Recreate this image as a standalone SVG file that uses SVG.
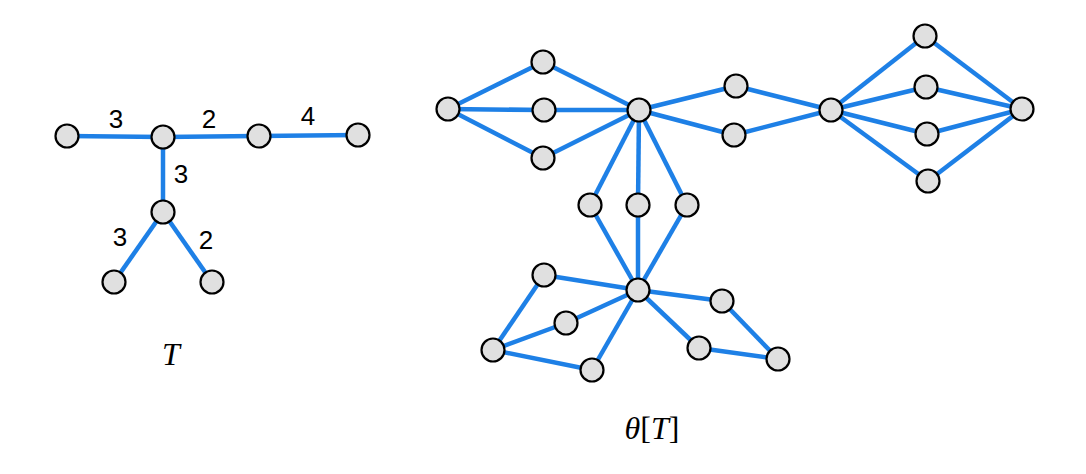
<svg xmlns="http://www.w3.org/2000/svg" width="1086" height="474" viewBox="0 0 1086 474">
<style>
.e{stroke:#1e80e6;stroke-width:4.5;fill:none;stroke-linecap:butt}
.n{fill:#e0e0e0;stroke:#000;stroke-width:2.2}
.w{font-family:"Liberation Sans",Arial,sans-serif;font-size:26px;fill:#000;text-anchor:middle}
.m{font-family:"Liberation Serif","Times New Roman",serif;font-size:32px;fill:#000;text-anchor:middle}
.i{font-style:italic}
</style>
<rect width="1086" height="474" fill="#fff"/>
<g id="connectors">
<line class="e" x1="67" y1="136" x2="163" y2="137"/>
<line class="e" x1="163" y1="137" x2="259" y2="136"/>
<line class="e" x1="259" y1="136" x2="358" y2="135"/>
<line class="e" x1="163" y1="137" x2="163" y2="212"/>
<line class="e" x1="163" y1="212" x2="114" y2="282"/>
<line class="e" x1="163" y1="212" x2="212" y2="282"/>
<line class="e" x1="448" y1="109" x2="543" y2="62"/>
<line class="e" x1="448" y1="109" x2="544" y2="110"/>
<line class="e" x1="448" y1="109" x2="543" y2="158"/>
<line class="e" x1="543" y1="62" x2="639" y2="110"/>
<line class="e" x1="544" y1="110" x2="639" y2="110"/>
<line class="e" x1="543" y1="158" x2="639" y2="110"/>
<line class="e" x1="639" y1="110" x2="736" y2="86"/>
<line class="e" x1="639" y1="110" x2="734" y2="135"/>
<line class="e" x1="736" y1="86" x2="831" y2="110"/>
<line class="e" x1="734" y1="135" x2="831" y2="110"/>
<line class="e" x1="831" y1="110" x2="925" y2="36"/>
<line class="e" x1="831" y1="110" x2="926" y2="87"/>
<line class="e" x1="831" y1="110" x2="927" y2="134"/>
<line class="e" x1="831" y1="110" x2="928" y2="181"/>
<line class="e" x1="925" y1="36" x2="1022" y2="109"/>
<line class="e" x1="926" y1="87" x2="1022" y2="109"/>
<line class="e" x1="927" y1="134" x2="1022" y2="109"/>
<line class="e" x1="928" y1="181" x2="1022" y2="109"/>
<line class="e" x1="639" y1="110" x2="590" y2="205"/>
<line class="e" x1="639" y1="110" x2="638" y2="205"/>
<line class="e" x1="639" y1="110" x2="687" y2="205"/>
<line class="e" x1="590" y1="205" x2="638" y2="290"/>
<line class="e" x1="638" y1="205" x2="638" y2="290"/>
<line class="e" x1="687" y1="205" x2="638" y2="290"/>
<line class="e" x1="638" y1="290" x2="544" y2="275"/>
<line class="e" x1="638" y1="290" x2="566" y2="323"/>
<line class="e" x1="638" y1="290" x2="592" y2="370"/>
<line class="e" x1="638" y1="290" x2="722" y2="301"/>
<line class="e" x1="638" y1="290" x2="699" y2="348"/>
<line class="e" x1="544" y1="275" x2="493" y2="350"/>
<line class="e" x1="566" y1="323" x2="493" y2="350"/>
<line class="e" x1="493" y1="350" x2="592" y2="370"/>
<line class="e" x1="722" y1="301" x2="778" y2="359"/>
<line class="e" x1="699" y1="348" x2="778" y2="359"/>
</g>
<g id="t1"><circle class="n" cx="67" cy="136" r="11.5"/></g>
<g id="t2"><circle class="n" cx="163" cy="137" r="11.5"/></g>
<g id="t3"><circle class="n" cx="259" cy="136" r="11.5"/></g>
<g id="t4"><circle class="n" cx="358" cy="135" r="11.5"/></g>
<g id="t5"><circle class="n" cx="163" cy="212" r="11.5"/></g>
<g id="t6"><circle class="n" cx="114" cy="282" r="11.5"/></g>
<g id="t7"><circle class="n" cx="212" cy="282" r="11.5"/></g>
<g id="g1"><circle class="n" cx="448" cy="109" r="11.5"/></g>
<g id="g2"><circle class="n" cx="543" cy="62" r="11.5"/></g>
<g id="g3"><circle class="n" cx="544" cy="110" r="11.5"/></g>
<g id="g4"><circle class="n" cx="543" cy="158" r="11.5"/></g>
<g id="g5"><circle class="n" cx="639" cy="110" r="11.5"/></g>
<g id="g6"><circle class="n" cx="736" cy="86" r="11.5"/></g>
<g id="g7"><circle class="n" cx="734" cy="135" r="11.5"/></g>
<g id="g8"><circle class="n" cx="831" cy="110" r="11.5"/></g>
<g id="g9"><circle class="n" cx="925" cy="36" r="11.5"/></g>
<g id="g10"><circle class="n" cx="926" cy="87" r="11.5"/></g>
<g id="g11"><circle class="n" cx="927" cy="134" r="11.5"/></g>
<g id="g12"><circle class="n" cx="928" cy="181" r="11.5"/></g>
<g id="g13"><circle class="n" cx="1022" cy="109" r="11.5"/></g>
<g id="g14"><circle class="n" cx="590" cy="205" r="11.5"/></g>
<g id="g15"><circle class="n" cx="638" cy="205" r="11.5"/></g>
<g id="g16"><circle class="n" cx="687" cy="205" r="11.5"/></g>
<g id="g17"><circle class="n" cx="638" cy="290" r="11.5"/></g>
<g id="g18"><circle class="n" cx="544" cy="275" r="11.5"/></g>
<g id="g19"><circle class="n" cx="566" cy="323" r="11.5"/></g>
<g id="g20"><circle class="n" cx="493" cy="350" r="11.5"/></g>
<g id="g21"><circle class="n" cx="592" cy="370" r="11.5"/></g>
<g id="g22"><circle class="n" cx="722" cy="301" r="11.5"/></g>
<g id="g23"><circle class="n" cx="699" cy="348" r="11.5"/></g>
<g id="g24"><circle class="n" cx="778" cy="359" r="11.5"/></g>
<g id="labels">
<text class="w" x="116" y="128">3</text>
<text class="w" x="209" y="128">2</text>
<text class="w" x="308" y="125">4</text>
<text class="w" x="181" y="183">3</text>
<text class="w" x="120" y="246">3</text>
<text class="w" x="206" y="249">2</text>
<text class="m i" x="171" y="365">T</text>
<text class="m" x="652" y="439"><tspan class="i">θ</tspan>[<tspan class="i">T</tspan>]</text>
</g>
</svg>
